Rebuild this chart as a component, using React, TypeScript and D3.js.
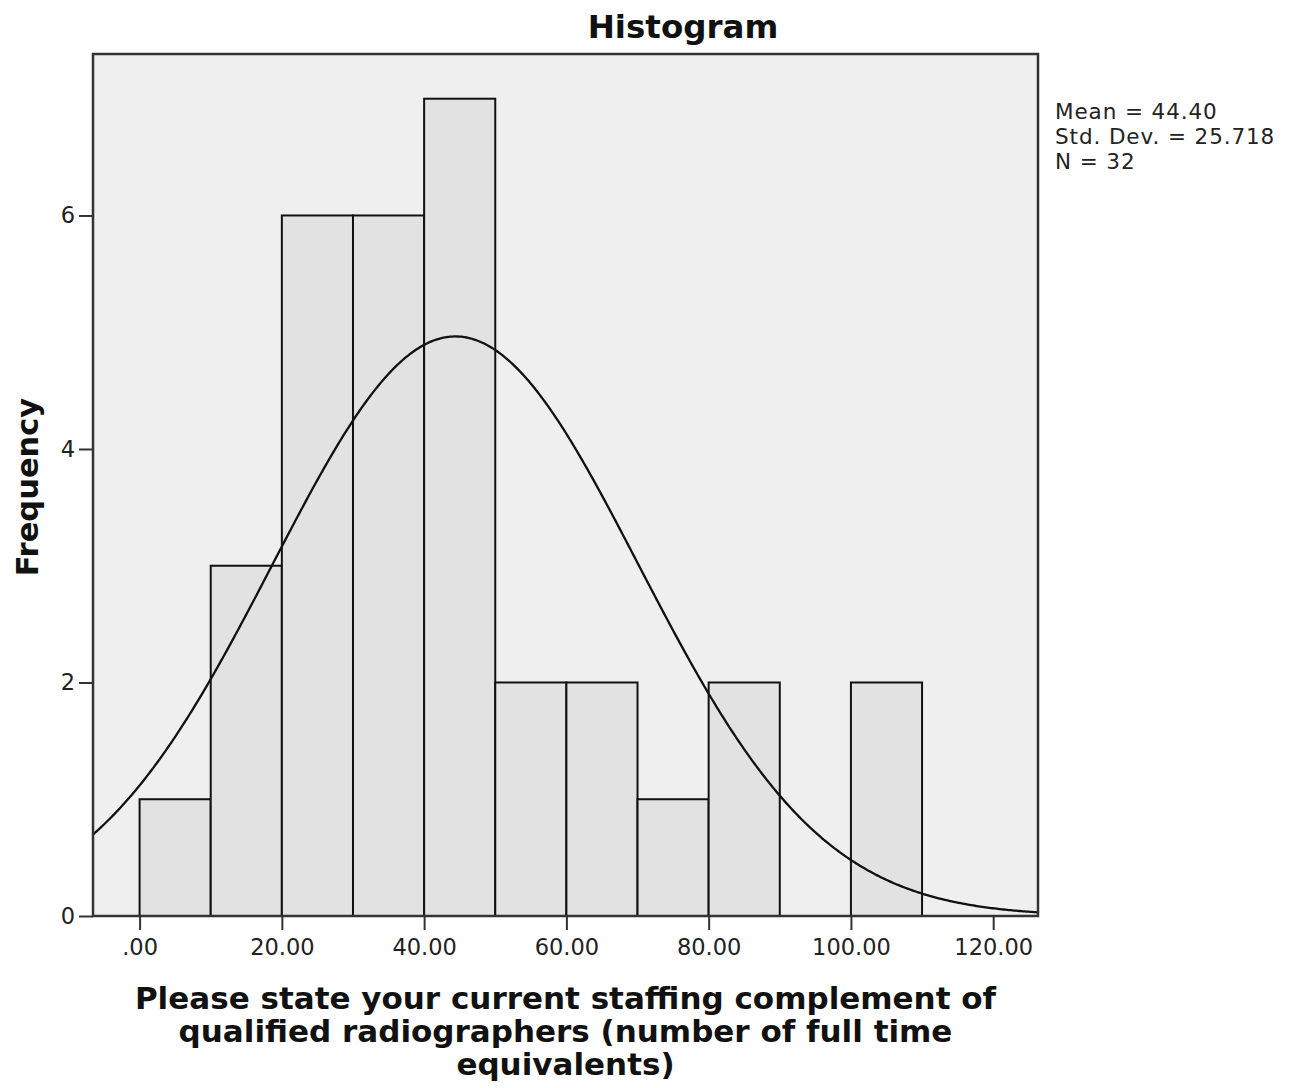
import React, { useEffect, useRef } from "react";
import * as d3 from "d3";

// histogram bins (lower edge, width 10) and counts
const binStarts = [0, 10, 20, 30, 40, 50, 60, 70, 80, 90, 100];
const counts = [1, 3, 6, 6, 7, 2, 2, 1, 2, 0, 2];
const binWidth = 10;

const xTicks = [0, 20, 40, 60, 80, 100, 120];
const xTickLabels = [".00", "20.00", "40.00", "60.00", "80.00", "100.00", "120.00"];
const yTicks = [0, 2, 4, 6];

// summary stats printed beside the chart (also used for the normal curve)
const mean = 44.4;
const stdDev = 25.718;
const n = 32;
const statLines = ["Mean = 44.40", "Std. Dev. = 25.718", "N = 32"];

const xLabelLines = [
  "Please state your current staffing complement of",
  "qualified radiographers (number of full time",
  "equivalents)",
];

export default function App() {
  const svgRef = useRef<SVGSVGElement | null>(null);

  useEffect(() => {
    document.body.style.margin = "0";
    if (!svgRef.current) return;

    const svg = d3.select(svgRef.current);
    svg.selectAll("*").remove();

    const W = 1289;
    const H = 1088;
    const margin = { top: 54, right: 251, bottom: 172, left: 93 };
    const font = "'DejaVu Sans', Verdana, sans-serif";

    const x = d3.scaleLinear().domain([-6.55, 126.3]).range([margin.left, W - margin.right]);
    const y = d3.scaleLinear().domain([0, 7.383]).range([H - margin.bottom, margin.top]);

    svg.append("rect").attr("width", W).attr("height", H).attr("fill", "#fff");

    // plot background
    svg
      .append("rect")
      .attr("x", margin.left)
      .attr("y", margin.top)
      .attr("width", W - margin.left - margin.right)
      .attr("height", H - margin.top - margin.bottom)
      .attr("fill", "#efefef");

    // bars
    svg
      .append("g")
      .selectAll("rect")
      .data(binStarts.map((s, i) => ({ s, c: counts[i] })).filter((d) => d.c > 0))
      .join("rect")
      .attr("x", (d) => x(d.s))
      .attr("y", (d) => y(d.c))
      .attr("width", (d) => x(d.s + binWidth) - x(d.s))
      .attr("height", (d) => y(0) - y(d.c))
      .attr("fill", "#e2e2e2")
      .attr("stroke", "#111")
      .attr("stroke-width", 2);

    // fitted normal curve
    const pdf = (v: number) =>
      (n * binWidth * Math.exp(-0.5 * ((v - mean) / stdDev) ** 2)) / (stdDev * Math.sqrt(2 * Math.PI));
    const [x0, x1] = x.domain();
    const pts = d3.range(x0, x1 + 0.25, 0.25).map((v) => [v, pdf(v)] as [number, number]);
    svg
      .append("path")
      .datum(pts)
      .attr("fill", "none")
      .attr("stroke", "#111")
      .attr("stroke-width", 2.3)
      .attr(
        "d",
        d3
          .line<[number, number]>()
          .x((d) => x(d[0]))
          .y((d) => y(d[1]))
      );

    // frame
    svg
      .append("rect")
      .attr("x", margin.left)
      .attr("y", margin.top)
      .attr("width", W - margin.left - margin.right)
      .attr("height", H - margin.top - margin.bottom)
      .attr("fill", "none")
      .attr("stroke", "#333")
      .attr("stroke-width", 2.5);

    // x axis
    const xAxis = d3
      .axisBottom(x)
      .tickValues(xTicks)
      .tickSize(14)
      .tickPadding(9)
      .tickFormat((d, i) => xTickLabels[i]);
    const gx = svg
      .append("g")
      .attr("transform", `translate(0,${H - margin.bottom})`)
      .call(xAxis);
    gx.select(".domain").remove();
    gx.selectAll("line").attr("stroke", "#333").attr("stroke-width", 2);
    gx.selectAll("text").attr("font-family", font).attr("font-size", 22.5).attr("fill", "#222");

    // y axis
    const yAxis = d3.axisLeft(y).tickValues(yTicks).tickSize(14).tickPadding(4);
    const gy = svg.append("g").attr("transform", `translate(${margin.left},0)`).call(yAxis);
    gy.select(".domain").remove();
    gy.selectAll("line").attr("stroke", "#333").attr("stroke-width", 2);
    gy.selectAll("text").attr("font-family", font).attr("font-size", 22.5).attr("fill", "#222");

    // title
    svg
      .append("text")
      .attr("x", 683)
      .attr("y", 38)
      .attr("text-anchor", "middle")
      .attr("font-family", font)
      .attr("font-weight", "bold")
      .attr("font-size", 32.5)
      .attr("fill", "#111")
      .text("Histogram");

    // y label
    svg
      .append("text")
      .attr("transform", `translate(38,487) rotate(-90)`)
      .attr("text-anchor", "middle")
      .attr("font-family", font)
      .attr("font-weight", "bold")
      .attr("font-size", 30.5)
      .attr("fill", "#111")
      .text("Frequency");

    // x label
    svg
      .append("g")
      .selectAll("text")
      .data(xLabelLines)
      .join("text")
      .attr("x", (margin.left + W - margin.right) / 2)
      .attr("y", (d, i) => 1009 + i * 33)
      .attr("text-anchor", "middle")
      .attr("font-family", font)
      .attr("font-weight", "bold")
      .attr("font-size", 31)
      .attr("fill", "#111")
      .text((d) => d);

    // stats
    svg
      .append("g")
      .selectAll("text")
      .data(statLines)
      .join("text")
      .attr("x", 1055)
      .attr("y", (d, i) => 119 + i * 25)
      .attr("font-family", font)
      .attr("font-size", 21.5)
      .attr("letter-spacing", 0.9)
      .attr("fill", "#222")
      .text((d) => d);
  }, []);

  return <svg ref={svgRef} width={1289} height={1088} style={{ display: "block" }} />;
}
